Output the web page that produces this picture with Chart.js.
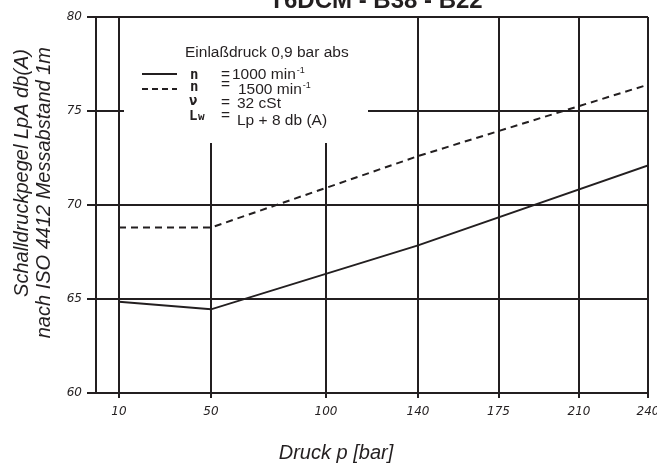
<!DOCTYPE html>
<html>
<head>
<meta charset="utf-8">
<script src="https://cdn.jsdelivr.net/npm/chart.js@4"></script>
<style>
  html, body { margin: 0; padding: 0; background: #fff; }
  #wrap { width: 657px; height: 463px; }
</style>
</head>
<body>
<div id="wrap"><canvas id="chart" width="657" height="463"></canvas></div>
<script>
// =====================
// DATA
// =====================
const pressure = [10, 50, 140, 240];
const level1000 = [64.85, 64.45, 67.85, 72.1];
const level1500 = [68.8, 68.8, 72.6, 76.4];
const xTicks = [10, 50, 100, 140, 175, 210, 240];

const titleText = 'T6DCM - B38 - B22';
const yTitle = ['Schalldruckpegel LpA db(A)', 'nach ISO 4412 Messabstand 1m'];
const xTitle = 'Druck p [bar]';

const ink = '#231f20';

// =====================
// TEXTS + LEGEND BOX
// =====================
const textPlugin = {
    id: 'texts',
    afterDatasetsDraw(chart) {
        const ctx = chart.ctx;
        ctx.save();

        // white legend box over the grid
        ctx.fillStyle = '#fff';
        ctx.fillRect(124, 18, 244, 125);

        ctx.fillStyle = ink;
        ctx.strokeStyle = ink;
        ctx.textBaseline = 'alphabetic';
        ctx.textAlign = 'left';

        const legendFont = '15.5px "Liberation Sans", Arial, sans-serif';
        ctx.font = legendFont;
        ctx.fillText('Einlaßdruck 0,9 bar abs', 185, 57);

        // line samples
        ctx.lineWidth = 2;
        ctx.beginPath();
        ctx.moveTo(142, 74); ctx.lineTo(177, 74);
        ctx.stroke();
        ctx.setLineDash([6, 4]);
        ctx.beginPath();
        ctx.moveTo(142, 89); ctx.lineTo(177, 89);
        ctx.stroke();
        ctx.setLineDash([]);

        // symbols
        ctx.font = 'bold 14px "DejaVu Sans Mono", monospace';
        ctx.fillText('n', 190, 79);
        ctx.fillText('n', 190, 91);
        ctx.fillText('ν', 189, 105);
        ctx.fillText('L', 189, 120);
        ctx.font = 'bold 11px "DejaVu Sans Mono", monospace';
        ctx.fillText('w', 198, 120);

        // equal signs
        ctx.font = legendFont;
        ctx.fillText('=', 221, 79);
        ctx.fillText('=', 221, 89);
        ctx.fillText('=', 221, 107);
        ctx.fillText('=', 221, 120);

        // values, with superscript -1
        const rpm = [['1000 min', 232, 79], ['1500 min', 238, 94]];
        rpm.forEach(([txt, x, y]) => {
            ctx.font = legendFont;
            ctx.fillText(txt, x, y);
            const w = ctx.measureText(txt).width;
            ctx.font = '9px "Liberation Sans", Arial, sans-serif';
            ctx.fillText('-1', x + w + 1, y - 6);
        });
        ctx.font = legendFont;
        ctx.fillText('32 cSt', 237, 108);
        ctx.fillText('Lp + 8 db (A)', 237, 125);

        // title (cut at top like the original)
        ctx.textAlign = 'center';
        ctx.font = 'bold 24px "Liberation Sans", Arial, sans-serif';
        ctx.fillText(titleText, 376, 8);

        // x axis title
        ctx.font = 'italic 20px "Liberation Sans", Arial, sans-serif';
        ctx.fillText(xTitle, 336, 459);

        // y axis title, end-aligned at the top
        ctx.textAlign = 'right';
        ctx.textBaseline = 'middle';
        ctx.save();
        ctx.translate(22, 49);
        ctx.rotate(-Math.PI / 2);
        ctx.fillText(yTitle[0], 0, 0);
        ctx.restore();
        ctx.save();
        ctx.translate(44, 47);
        ctx.rotate(-Math.PI / 2);
        ctx.fillText(yTitle[1], 0, 0);
        ctx.restore();

        ctx.restore();
    }
};

// =====================
// CHART
// =====================
const ctx = document.getElementById('chart').getContext('2d');
const tickFont = { family: '"DejaVu Sans", sans-serif', size: 12, style: 'italic' };

new Chart(ctx, {
    type: 'line',
    data: {
        datasets: [
            {
                label: 'n = 1000 min-1',
                data: pressure.map((p, i) => ({ x: p, y: level1000[i] })),
                borderColor: ink, borderWidth: 2, pointRadius: 0, tension: 0
            },
            {
                label: 'n = 1500 min-1',
                data: pressure.map((p, i) => ({ x: p, y: level1500[i] })),
                borderColor: ink, borderWidth: 2, borderDash: [7, 5], pointRadius: 0, tension: 0
            }
        ]
    },
    options: {
        responsive: false,
        animation: false,
        layout: { padding: { top: 17, right: 9, left: 0, bottom: 0 } },
        plugins: { legend: { display: false }, title: { display: false }, tooltip: { enabled: false } },
        scales: {
            x: {
                type: 'linear',
                min: 0, max: 240,
                afterBuildTicks: scale => { scale.ticks = xTicks.map(v => ({ value: v })); },
                afterFit: scale => { scale.height = 70; scale.paddingLeft = 0; scale.paddingRight = 0; },
                grid: { color: ink, lineWidth: 2, tickLength: 5 },
                border: { color: ink, width: 2 },
                ticks: { color: ink, padding: 7, maxRotation: 0, autoSkip: false, font: tickFont }
            },
            y: {
                min: 60, max: 80,
                ticks: { stepSize: 5, color: ink, padding: 5, font: tickFont },
                afterFit: scale => { scale.width = 96; scale.paddingTop = 0; scale.paddingBottom = 0; },
                grid: { color: ink, lineWidth: 2, tickLength: 9 },
                border: { color: ink, width: 2 }
            }
        }
    },
    plugins: [textPlugin]
});
</script>
</body>
</html>
